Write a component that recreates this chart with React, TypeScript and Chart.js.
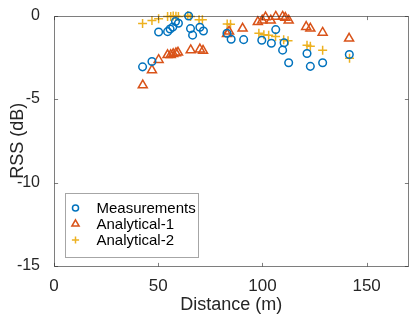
import React, { useEffect, useRef } from "react";
import { Chart, registerables } from "chart.js";

Chart.register(...registerables);

const FONT = "'Liberation Sans', Arial, Helvetica, sans-serif";

const xTicks = [0, 50, 100, 150];
const yTicks = [0, -5, -10, -15];

const seriesNames = ["Measurements", "Analytical-1", "Analytical-2"];
const seriesColors = ["#0072BD", "#D95319", "#EDB120"];

const measDist = [42.5, 47, 50.2, 54.5, 55.7, 57, 58.3, 59.7, 64.6, 65.5, 66.5, 70, 71.7, 83, 85, 91, 99.7, 104.3, 106.4, 110.4, 109.7, 112.6, 121.4, 123, 128.9, 141.7];
const measRss = [-3.07, -2.75, -0.98, -0.96, -0.8, -0.69, -0.35, -0.46, -0.02, -0.78, -1.17, -0.7, -0.92, -1.06, -1.42, -1.44, -1.48, -1.66, -0.84, -1.63, -2.07, -2.82, -2.27, -3.04, -2.82, -2.33];

const a1Dist = [42.6, 47, 50.2, 54.5, 56, 57.2, 58.5, 59.5, 65.6, 70, 71.5, 83, 84, 90.5, 97.8, 99.9, 101.5, 104, 106.4, 109.7, 111, 112.6, 121, 123, 128.9, 141.6];
const a1Rss = [-4.17, -3.27, -2.65, -2.36, -2.36, -2.3, -2.25, -2.21, -2.07, -2.02, -2.1, -1.1, -0.95, -0.77, -0.38, -0.29, -0.1, -0.29, -0.06, -0.06, -0.13, -0.29, -0.67, -0.77, -1.02, -1.37];

const a2Dist = [42.5, 47, 50.2, 54.5, 56, 57.2, 58.5, 59.7, 64.2, 65.5, 69.6, 71.2, 83.1, 84.7, 98.3, 100.7, 103, 106.3, 110.2, 112.3, 121.4, 123, 128.9, 141.8];
const a2Rss = [-0.48, -0.29, -0.19, -0.06, -0.05, -0.03, -0.04, -0.06, 0, -0.05, -0.25, -0.25, -0.5, -0.52, -1.06, -1.15, -1.18, -1.25, -1.44, -1.5, -1.77, -1.83, -2.07, -2.55];

const toPoints = (xs: number[], ys: number[]) => xs.map((x, i) => ({ x, y: ys[i] }));

const pointStyles = ["circle", "triangle", "cross"];
const pointRadii = [3.8, 5.2, 4.5];

function drawMarker(ctx: CanvasRenderingContext2D, style: string, x: number, y: number, r: number) {
  ctx.beginPath();
  if (style === "circle") {
    ctx.arc(x, y, r, 0, Math.PI * 2);
  } else if (style === "triangle") {
    ctx.moveTo(x, y - r);
    ctx.lineTo(x + r * Math.sin(Math.PI / 3), y + r * 0.5);
    ctx.lineTo(x - r * Math.sin(Math.PI / 3), y + r * 0.5);
    ctx.closePath();
  } else {
    ctx.moveTo(x - r, y);
    ctx.lineTo(x + r, y);
    ctx.moveTo(x, y - r);
    ctx.lineTo(x, y + r);
  }
  ctx.stroke();
}

const boxPlugin = {
  id: "matlabBox",
  afterDatasetsDraw(chart: any) {
    const { ctx, chartArea: a, scales } = chart;
    const L = Math.round(a.left) + 0.5;
    const R = Math.round(a.right) + 0.5;
    const T = Math.round(a.top) + 0.5;
    const B = Math.round(a.bottom) + 0.5;
    ctx.save();
    ctx.strokeStyle = "#262626";
    ctx.lineWidth = 0.6;
    ctx.beginPath();
    ctx.rect(L, T, R - L, B - T);
    const tl = 3.6;
    xTicks.forEach((v) => {
      const px = Math.round(scales.x.getPixelForValue(v)) + 0.5;
      ctx.moveTo(px, B);
      ctx.lineTo(px, B - tl);
      ctx.moveTo(px, T);
      ctx.lineTo(px, T + tl);
    });
    yTicks.forEach((v) => {
      const py = Math.round(scales.y.getPixelForValue(v)) + 0.5;
      ctx.moveTo(L, py);
      ctx.lineTo(L + tl, py);
      ctx.moveTo(R, py);
      ctx.lineTo(R - tl, py);
    });
    ctx.stroke();

    // legend box inside the axes (lower left)
    const lx = 65.5, ly = 193.5, lw = 133, lh = 64;
    ctx.fillStyle = "#ffffff";
    ctx.fillRect(lx, ly, lw, lh);
    ctx.strokeStyle = "#a6a6a6";
    ctx.lineWidth = 1;
    ctx.strokeRect(lx, ly, lw, lh);
    const rows = [208, 224, 240];
    chart.data.datasets.forEach((ds: any, i: number) => {
      ctx.strokeStyle = ds.borderColor;
      ctx.lineWidth = 1.5;
      drawMarker(ctx, ds.pointStyle, 75.5, rows[i], ds.pointRadius * 0.8);
      ctx.fillStyle = "#000000";
      ctx.font = `15px ${FONT}`;
      ctx.textBaseline = "middle";
      ctx.textAlign = "left";
      ctx.fillText(ds.label, 96.5, rows[i] + 0.5);
    });
    ctx.restore();
  },
};

export default function App() {
  const ref = useRef<HTMLCanvasElement | null>(null);

  useEffect(() => {
    document.body.style.margin = "0";
    const canvas = ref.current;
    if (!canvas) return;
    const dataSets = [
      toPoints(measDist, measRss),
      toPoints(a1Dist, a1Rss),
      toPoints(a2Dist, a2Rss),
    ];
    const chart = new Chart(canvas, {
      type: "scatter",
      data: {
        datasets: dataSets.map((d, i) => ({
          label: seriesNames[i],
          data: d,
          pointStyle: pointStyles[i],
          pointRadius: pointRadii[i],
          pointHoverRadius: pointRadii[i],
          borderColor: seriesColors[i],
          backgroundColor: "rgba(0,0,0,0)",
          pointBorderWidth: 1.5,
          borderWidth: 1.5,
          clip: false as any,
          showLine: false,
        })),
      },
      options: {
        responsive: false,
        animation: false,
        devicePixelRatio: 1,
        layout: { padding: { top: 5, right: 5, left: 0, bottom: 0 } },
        plugins: {
          legend: { display: false },
          tooltip: { enabled: false },
        },
        scales: {
          x: {
            type: "linear",
            min: 0,
            max: 170,
            afterBuildTicks: (s: any) => {
              s.ticks = xTicks.map((v) => ({ value: v }));
            },
            afterFit: (s: any) => {
              s.height = 51;
            },
            grid: { display: false },
            border: { display: false },
            ticks: {
              color: "#262626",
              font: { family: FONT, size: 17 },
              padding: 2,
              maxRotation: 0,
            },
            title: {
              display: true,
              text: "Distance (m)",
              color: "#262626",
              font: { family: FONT, size: 18 },
              padding: { top: 0, bottom: 1 },
            },
          },
          y: {
            type: "linear",
            min: -15,
            max: 0,
            afterBuildTicks: (s: any) => {
              s.ticks = yTicks.map((v) => ({ value: v }));
            },
            afterFit: (s: any) => {
              s.width = 54;
            },
            grid: { display: false },
            border: { display: false },
            ticks: {
              color: "#262626",
              font: { family: FONT, size: 16 },
              padding: 6,
            },
            title: {
              display: true,
              text: "RSS (dB)",
              color: "#262626",
              font: { family: FONT, size: 18 },
              padding: { top: 7, bottom: 0 },
            },
          },
        },
      },
      plugins: [boxPlugin],
    });
    return () => chart.destroy();
  }, []);

  return (
    <div style={{ position: "absolute", left: 0, top: 0, width: 415, height: 317 }}>
      <canvas ref={ref} width={415} height={317} style={{ width: 415, height: 317 }} />
    </div>
  );
}
